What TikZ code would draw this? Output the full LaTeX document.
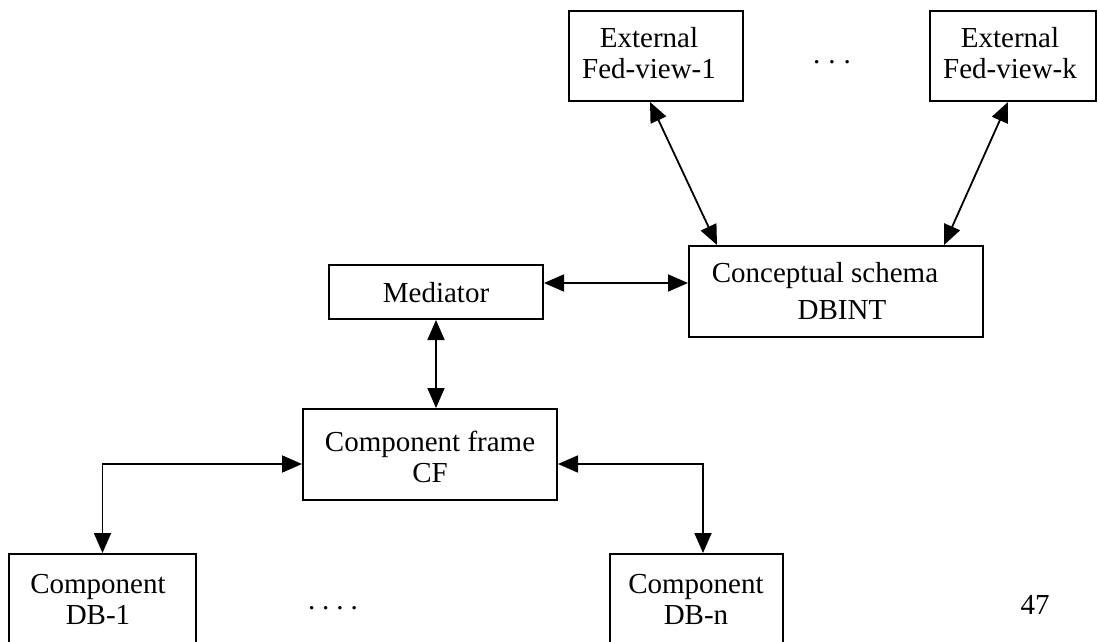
\documentclass[tikz,border=0pt]{standalone}
\usepackage{fontspec}
\setmainfont{Liberation Serif}
\usetikzlibrary{arrows.meta,calc}

\tikzset{
  boxnode/.style={draw, line width=2pt, rectangle, inner sep=0pt},
  lbl/.style={align=center, inner sep=0pt, font=\fontsize{29}{31}\selectfont},
  dbl/.style={line width=1.8pt, {Triangle[length=20pt,width=17pt]}-{Triangle[length=20pt,width=17pt]}},
}

\begin{document}
\begin{tikzpicture}[x=1pt, y=-1pt]
  \useasboundingbox (0,0) rectangle (1098,642);
  \clip (0,0) rectangle (1098,642);

  % boxes (centre and size, in page units)
  \node[boxnode, minimum width=174pt, minimum height=90pt] (ext1) at (656,56) {};
  \node[boxnode, minimum width=166pt, minimum height=90pt] (extk) at (1013,56) {};
  \node[boxnode, minimum width=294pt, minimum height=91pt] (cs) at (836,291.5) {};
  \node[boxnode, minimum width=214pt, minimum height=54pt] (med) at (436,292) {};
  \node[boxnode, minimum width=254pt, minimum height=91pt] (cf) at (430,454.5) {};
  \node[boxnode, minimum width=187pt, minimum height=110pt] (db1) at (102.5,609) {};
  \node[boxnode, minimum width=173pt, minimum height=110pt] (dbn) at (696.5,609) {};

  % labels
  \node[lbl] (ext1t) at (649,53) {External\\Fed-view-1};
  \node[lbl] (extkt) at (1010,53) {External\\Fed-view-k};
  \node[lbl] (cst1) at (825,276) {Conceptual schema};
  \node[lbl] (cst2) at (842,310) {DBINT};
  \node[lbl] (medt) at (436,293) {Mediator};
  \node[lbl] (cft) at (430,457) {Component frame\\CF};
  \node[lbl] (db1t) at (98,599) {Component\\DB-1};
  \node[lbl] (dbnt) at (696,599) {Component\\DB-n};
  \node[lbl] (dotsa) at (832,62) {.\hspace{8pt}.\hspace{8pt}.};
  \node[lbl] (dotsb) at (333,608) {.\hspace{7pt}.\hspace{7pt}.\hspace{7pt}.};
  \node[lbl] (pnum) at (1035,605) {47};

  % connectors
  \draw[dbl] ([xshift=-6pt]ext1.south) -- ([xshift=-119pt]cs.north);
  \draw[dbl] ([xshift=-5pt]extk.south) -- ([xshift=108pt]cs.north);
  \draw[dbl] ([yshift=9pt]med.east) -- ([yshift=9pt]med.east -| cs.west);
  \draw[dbl] (med.south) -- (med.south |- cf.north);
  \draw[dbl] ([yshift=-9.5pt]cf.west) -| (db1.north);
  \draw[dbl] ([yshift=-9.5pt]cf.east) -| ([xshift=6.5pt]dbn.north);
\end{tikzpicture}
\end{document}
